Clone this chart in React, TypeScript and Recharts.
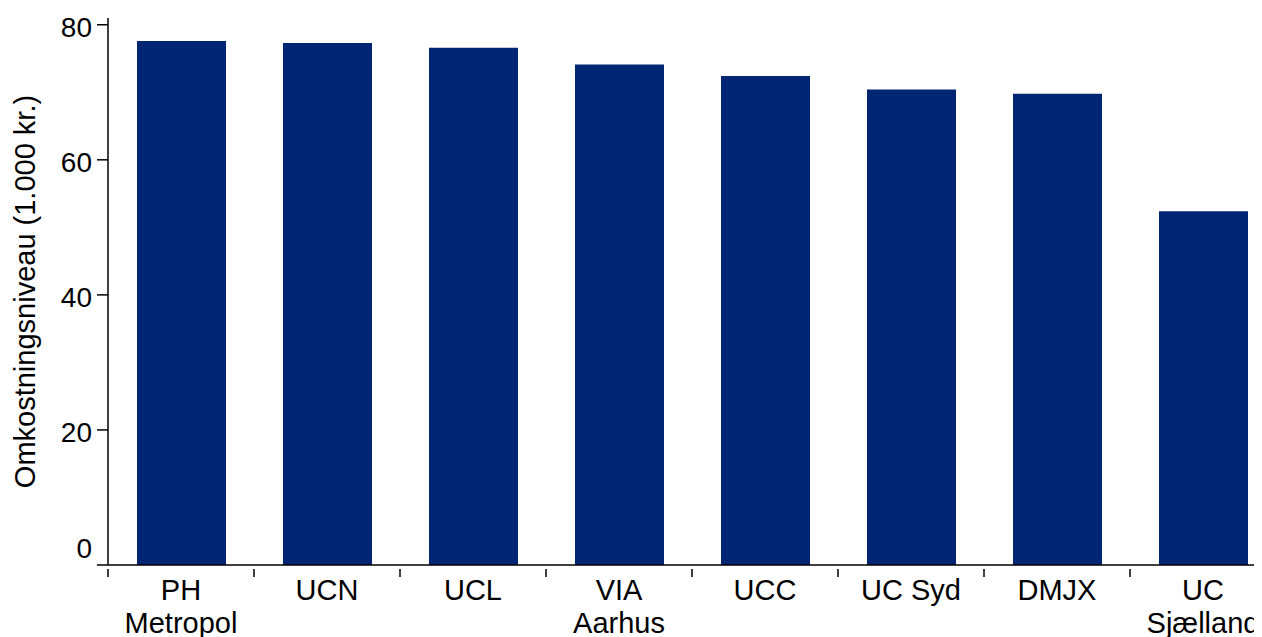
import { Bar, BarChart, XAxis, YAxis } from 'recharts'

const institutioner = ['PH\nMetropol', 'UCN', 'UCL', 'VIA\nAarhus', 'UCC', 'UC Syd', 'DMJX', 'UC\nSjælland']
const omkostning = [77.6, 77.3, 76.6, 74.1, 72.4, 70.4, 69.8, 52.4]
const yTicks = [0, 20, 40, 60, 80]

const data = institutioner.map((navn, i) => ({ navn, vaerdi: omkostning[i] }))

const FONT = '"Liberation Sans", Arial, sans-serif'
const BAND = 146

function XTick({ x, y, payload }: any) {
  const lines = String(payload.value).split('\n')
  return (
    <g>
      <line x1={x - BAND / 2} x2={x - BAND / 2} y1={y - 4} y2={y + 4} stroke="#000" strokeWidth={1.5} />
      {lines.map((l, i) => (
        <text key={i} x={x} y={y + 27 + i * 33} textAnchor="middle" fontSize={29} fontFamily={FONT} fill="#000">
          {l}
        </text>
      ))}
    </g>
  )
}

function YTick({ x, y, payload }: any) {
  const up = payload.value === 0 ? -17 : 2
  return (
    <text x={x - 3} y={y + up} dy="0.35em" textAnchor="end" fontSize={28} fontFamily={FONT} fill="#000">
      {payload.value}
    </text>
  )
}

export default function App() {
  return (
    <div style={{ width: 1254, height: 629, overflow: 'hidden', background: '#fff' }}>
      <BarChart width={1280} height={660} data={data} margin={{ top: 10, right: 12, left: 0, bottom: 0 }}>
        <XAxis
          dataKey="navn"
          interval={0}
          height={103}
          tickLine={false}
          axisLine={{ stroke: '#000', strokeWidth: 1.5 }}
          tick={<XTick />}
        />
        <YAxis
          domain={[0, 81]}
          ticks={yTicks}
          width={100}
          tickSize={11}
          tickLine={{ stroke: '#000', strokeWidth: 1.5 }}
          axisLine={{ stroke: '#000', strokeWidth: 1.5 }}
          tick={<YTick />}
          label={{
            value: 'Omkostningsniveau (1.000 kr.)',
            angle: -90,
            position: 'insideLeft',
            dx: 12,
            style: { fontSize: 29, fontFamily: FONT, fill: '#000', textAnchor: 'middle' },
          }}
        />
        <Bar dataKey="vaerdi" fill="#002673" barSize={89} isAnimationActive={false} />
      </BarChart>
    </div>
  )
}
